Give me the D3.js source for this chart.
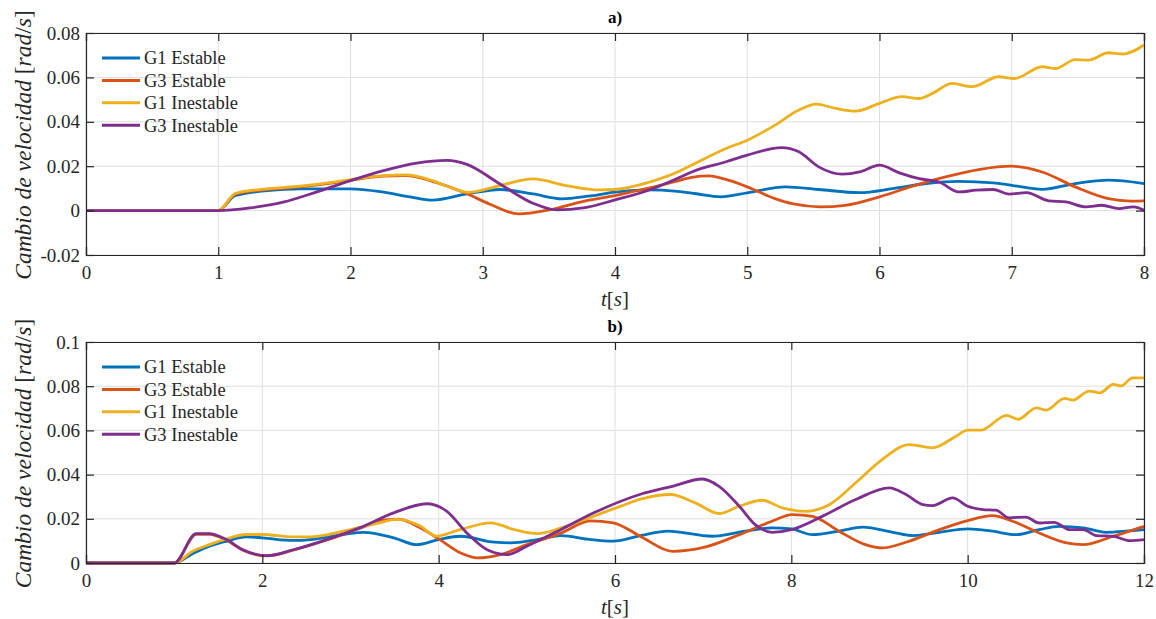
<!DOCTYPE html>
<html>
<head>
<meta charset="utf-8">
<script src="https://cdn.jsdelivr.net/npm/d3@7"></script>
<style>
  body { margin: 0; background: #fff; }
</style>
</head>
<body>
<div id="row"></div>
<script>

var serif = "'Liberation Serif', 'DejaVu Serif', serif";

// legend names + matlab default colors
var seriesNames = ["G1 Estable", "G3 Estable", "G1 Inestable", "G3 Inestable"];
var seriesColors = ["#0072BD", "#D95319", "#EDB120", "#7E2F8E"];

// panel a)  [t (s), speed change (rad/s)]
var g1EstableA = [[0,0],[1,0],[1.13,0.0068],[1.37,0.009],[1.62,0.0098],[2,0.0098],[2.25,0.0083],[2.45,0.0062],[2.62,0.0047],
  [2.88,0.0075],[3.13,0.0095],[3.38,0.0075],[3.6,0.0053],[3.8,0.0065],[4,0.0083],[4.26,0.0093],[4.45,0.0088],[4.6,0.0077],
  [4.8,0.0062],[5,0.008],[5.29,0.0107],[5.54,0.0095],[5.85,0.0081],[6.1,0.0099],[6.35,0.0122],[6.6,0.0132],[6.86,0.0125],
  [7,0.0114],[7.23,0.0096],[7.48,0.0122],[7.73,0.0137],[8,0.0122]];
var g3EstableA = [[0,0],[1,0],[1.13,0.0074],[1.37,0.0095],[1.62,0.0107],[1.87,0.0125],[2,0.0137],[2.25,0.0155],[2.42,0.0158],
  [2.62,0.0132],[2.88,0.0076],[3.05,0.003],[3.27,-0.0015],[3.5,0.0003],[3.76,0.0042],[4,0.0068],[4.26,0.0102],[4.45,0.013],
  [4.58,0.015],[4.71,0.0156],[4.85,0.0138],[5,0.0107],[5.21,0.0054],[5.35,0.003],[5.55,0.0017],[5.74,0.0024],[6,0.0062],
  [6.25,0.011],[6.5,0.0152],[6.75,0.0185],[7,0.02],[7.23,0.0174],[7.48,0.0107],[7.73,0.0054],[7.9,0.0043],[8,0.0044]];
var g1InestableA = [[0,0],[1,0],[1.13,0.0078],[1.37,0.0098],[1.62,0.011],[1.87,0.0128],[2,0.014],[2.25,0.0158],[2.42,0.0161],
  [2.62,0.0135],[2.75,0.0105],[2.89,0.0082],[3.13,0.0113],[3.38,0.0143],[3.63,0.0113],[3.88,0.0093],[4,0.0095],[4.26,0.0128],
  [4.49,0.0178],[4.58,0.0205],[4.84,0.028],[5,0.0317],[5.21,0.0385],[5.39,0.0453],[5.52,0.048],[5.67,0.046],[5.82,0.0448],
  [6,0.0483],[6.17,0.0513],[6.3,0.0505],[6.4,0.0528],[6.55,0.0573],[6.7,0.0558],[6.9,0.0603],[7.02,0.0595],[7.23,0.0648],
  [7.33,0.064],[7.48,0.068],[7.58,0.0678],[7.73,0.0711],[7.84,0.0705],[8,0.0746]];
var g3InestableA = [[0,0],[1,0],[1.24,0.0012],[1.49,0.0038],[1.74,0.0083],[2,0.0135],[2.25,0.018],[2.5,0.0214],[2.73,0.0226],
  [2.88,0.0208],[3.13,0.012],[3.38,0.0033],[3.56,0.0003],[3.76,0.0012],[4,0.0048],[4.26,0.0093],[4.49,0.015],[4.58,0.0174],
  [4.84,0.022],[5,0.025],[5.26,0.0284],[5.39,0.0265],[5.54,0.0197],[5.72,0.0164],[5.85,0.0174],[6,0.0205],[6.15,0.017],
  [6.3,0.0144],[6.45,0.0129],[6.6,0.0084],[6.73,0.0092],[6.86,0.0095],[6.98,0.0074],[7.11,0.0081],[7.28,0.0044],[7.41,0.0039],
  [7.56,0.0017],[7.68,0.0024],[7.81,0.0009],[7.92,0.0017],[8,0.0002]];

// panel b)
var g1EstableB = [[0,0],[1,0],[1.21,0.0042],[1.4,0.0076],[1.59,0.0098],[1.82,0.0118],[2,0.0114],[2.35,0.0102],[2.54,0.0106],
  [2.92,0.0129],[3.15,0.0139],[3.49,0.0114],[3.75,0.0083],[4,0.0106],[4.25,0.0121],[4.63,0.0094],[4.82,0.0091],[5.12,0.0106],
  [5.39,0.0124],[5.69,0.0108],[5.98,0.0099],[6.3,0.0125],[6.6,0.0144],[7.1,0.0121],[7.48,0.0144],[7.78,0.0159],[8,0.0154],
  [8.24,0.0128],[8.54,0.0144],[8.81,0.0162],[9.15,0.0139],[9.38,0.0124],[9.68,0.0139],[10,0.0154],[10.28,0.0144],
  [10.55,0.0128],[10.81,0.0151],[11.04,0.0166],[11.31,0.0159],[11.57,0.0139],[11.8,0.0144],[12,0.0151]];
var g3EstableB = [[0,0],[1,0],[1.25,0.013],[1.4,0.013],[1.59,0.0104],[1.78,0.0058],[2.05,0.0032],[2.35,0.0058],[2.73,0.0104],
  [3.11,0.0158],[3.4,0.0195],[3.55,0.0198],[3.79,0.0159],[4,0.0109],[4.25,0.0045],[4.44,0.0023],[4.7,0.0038],[5,0.0083],
  [5.39,0.0136],[5.72,0.0191],[5.98,0.0182],[6.3,0.0118],[6.65,0.0053],[7.03,0.0073],[7.41,0.0128],[7.78,0.0189],[8.01,0.0219],
  [8.24,0.0211],[8.54,0.0144],[8.84,0.0083],[9.03,0.0068],[9.3,0.0094],[9.68,0.0151],[10,0.0192],[10.28,0.0214],[10.51,0.0189],
  [10.81,0.0136],[11.12,0.0091],[11.31,0.0083],[11.65,0.0121],[12,0.0166]];
var g1InestableB = [[0,0],[1,0],[1.21,0.0053],[1.4,0.0083],[1.59,0.0109],[1.82,0.0129],[2,0.0129],[2.35,0.0118],[2.54,0.0118],
  [2.92,0.0144],[3.3,0.0179],[3.53,0.0197],[3.79,0.0167],[3.97,0.0122],[4.25,0.0152],[4.59,0.0182],[4.85,0.0152],[5.12,0.0133],
  [5.39,0.0159],[5.76,0.0212],[6.05,0.0255],[6.3,0.029],[6.63,0.031],[6.91,0.0272],[7.18,0.0224],[7.41,0.0257],[7.67,0.0284],
  [7.9,0.0249],[8.16,0.0234],[8.43,0.0264],[8.73,0.0363],[9.03,0.0468],[9.34,0.0536],[9.6,0.0521],[9.87,0.0574],[10,0.0601],
  [10.15,0.0601],[10.44,0.0668],[10.57,0.065],[10.78,0.0702],[10.89,0.0692],[11.1,0.0745],[11.19,0.0737],[11.38,0.0778],
  [11.5,0.077],[11.65,0.0808],[11.74,0.0801],[11.87,0.0838],[12,0.0838]];
var g3InestableB = [[0,0],[1,0],[1.25,0.0133],[1.4,0.0133],[1.59,0.0106],[1.78,0.006],[2.05,0.0033],[2.35,0.006],[2.73,0.0106],
  [3.11,0.016],[3.49,0.0227],[3.87,0.0268],[4.09,0.0235],[4.32,0.0136],[4.55,0.006],[4.78,0.0038],[5,0.0076],[5.39,0.0152],
  [5.76,0.0227],[6.28,0.031],[6.65,0.0347],[6.99,0.038],[7.18,0.0347],[7.41,0.0257],[7.59,0.0174],[7.78,0.0139],[8,0.0151],
  [8.35,0.0211],[8.73,0.0287],[9.11,0.034],[9.3,0.031],[9.49,0.0264],[9.6,0.026],[9.83,0.0295],[10,0.0257],[10.17,0.0242],
  [10.32,0.0239],[10.47,0.0204],[10.66,0.0208],[10.81,0.0181],[10.98,0.0184],[11.16,0.0151],[11.31,0.0151],[11.46,0.0124],
  [11.65,0.0121],[11.84,0.0101],[12,0.0106]];

var xTicksA = [0, 1, 2, 3, 4, 5, 6, 7, 8];
var yTicksA = [-0.02, 0, 0.02, 0.04, 0.06, 0.08];
var xTicksB = [0, 2, 4, 6, 8, 10, 12];
var yTicksB = [0, 0.02, 0.04, 0.06, 0.08, 0.1];

var svgWidth = 1156;
var svgHeight = 619;

var svg = d3.select("#row")
  .append("svg")
  .attr("width", svgWidth)
  .attr("height", svgHeight)
  .attr("font-family", serif);

function drawPanel(p) {
  var x = d3.scaleLinear().domain(p.xDomain).range([86, 1144]);
  var y = d3.scaleLinear().domain(p.yDomain).range([p.bottom, p.top]);
  var g = svg.append("g");

  // grid
  g.append("g").selectAll("line").data(p.xTicks).join("line")
    .attr("x1", d => x(d)).attr("x2", d => x(d))
    .attr("y1", p.top).attr("y2", p.bottom)
    .attr("stroke", "#dedede").attr("stroke-width", 1);
  g.append("g").selectAll("line").data(p.yTicks).join("line")
    .attr("x1", 86).attr("x2", 1144)
    .attr("y1", d => y(d)).attr("y2", d => y(d))
    .attr("stroke", "#dedede").attr("stroke-width", 1);

  // series
  var line = d3.line()
    .x(d => x(d[0]))
    .y(d => y(d[1]))
    .curve(d3.curveMonotoneX);
  p.series.forEach(function(s, i) {
    g.append("path")
      .datum(s)
      .attr("d", line)
      .attr("fill", "none")
      .attr("stroke", seriesColors[i])
      .attr("stroke-width", 2.8)
      .attr("stroke-linejoin", "round");
  });

  // axes, ticks inside, box on
  var bottomAxis = d3.axisBottom(x).tickValues(p.xTicks).tickSize(-8).tickPadding(11).tickFormat(d => d);
  var leftAxis = d3.axisLeft(y).tickValues(p.yTicks).tickSize(-8).tickPadding(6).tickFormat(d => d);
  var topAxis = d3.axisTop(x).tickValues(p.xTicks).tickSize(-8).tickFormat("");
  var rightAxis = d3.axisRight(y).tickValues(p.yTicks).tickSize(-8).tickFormat("");

  [
    [bottomAxis, `translate(0, ${p.bottom})`],
    [leftAxis, "translate(86, 0)"],
    [topAxis, `translate(0, ${p.top})`],
    [rightAxis, "translate(1144, 0)"]
  ].forEach(function(a) {
    var ax = g.append("g").attr("transform", a[1]).call(a[0])
      .attr("font-family", serif).attr("font-size", 19);
    ax.select(".domain").attr("stroke", "#262626").attr("stroke-width", 1.2);
    ax.selectAll(".tick line").attr("stroke", "#262626").attr("stroke-width", 1.2);
    ax.selectAll("text").attr("fill", "#262626");
  });

  // title
  g.append("text")
    .attr("x", 615).attr("y", p.top - 10)
    .attr("text-anchor", "middle")
    .attr("font-size", 17).attr("font-weight", "bold")
    .attr("fill", "#000")
    .text(p.title);

  // x label
  var xl = g.append("text")
    .attr("x", 615).attr("y", p.bottom + 51)
    .attr("text-anchor", "middle")
    .attr("font-size", 21)
    .attr("fill", "#262626");
  xl.append("tspan").attr("font-style", "italic").text("t");
  xl.append("tspan").text("[");
  xl.append("tspan").attr("font-style", "italic").text("s");
  xl.append("tspan").text("]");

  // y label
  var cy = (p.top + p.bottom) / 2 + 1;
  var yl = g.append("text")
    .attr("transform", `translate(23, ${cy}) rotate(-90)`)
    .attr("text-anchor", "middle")
    .attr("dy", "0.35em")
    .attr("font-size", 23.5)
    .attr("fill", "#262626");
  yl.append("tspan").attr("font-style", "italic").text("Cambio de velocidad ");
  yl.append("tspan").text("[");
  yl.append("tspan").attr("font-style", "italic").text("rad");
  yl.append("tspan").text("/");
  yl.append("tspan").attr("font-style", "italic").text("s");
  yl.append("tspan").text("]");

  // legend
  var leg = g.append("g").selectAll("g").data(seriesNames).join("g")
    .attr("transform", (d, i) => `translate(0, ${p.legendTop + i * 22.4})`);
  leg.append("line")
    .attr("x1", 102).attr("x2", 140)
    .attr("stroke", (d, i) => seriesColors[i])
    .attr("stroke-width", 3);
  leg.append("text")
    .attr("x", 144).attr("dy", "0.35em")
    .attr("font-size", 18.5)
    .attr("fill", "#262626")
    .text(d => d);
}

drawPanel({
  title: "a)",
  top: 33, bottom: 255,
  xDomain: [0, 8], yDomain: [-0.02, 0.08],
  xTicks: xTicksA, yTicks: yTicksA,
  legendTop: 58,
  series: [g1EstableA, g3EstableA, g1InestableA, g3InestableA]
});

drawPanel({
  title: "b)",
  top: 342, bottom: 563,
  xDomain: [0, 12], yDomain: [0, 0.1],
  xTicks: xTicksB, yTicks: yTicksB,
  legendTop: 367,
  series: [g1EstableB, g3EstableB, g1InestableB, g3InestableB]
});

</script>
</body>
</html>
